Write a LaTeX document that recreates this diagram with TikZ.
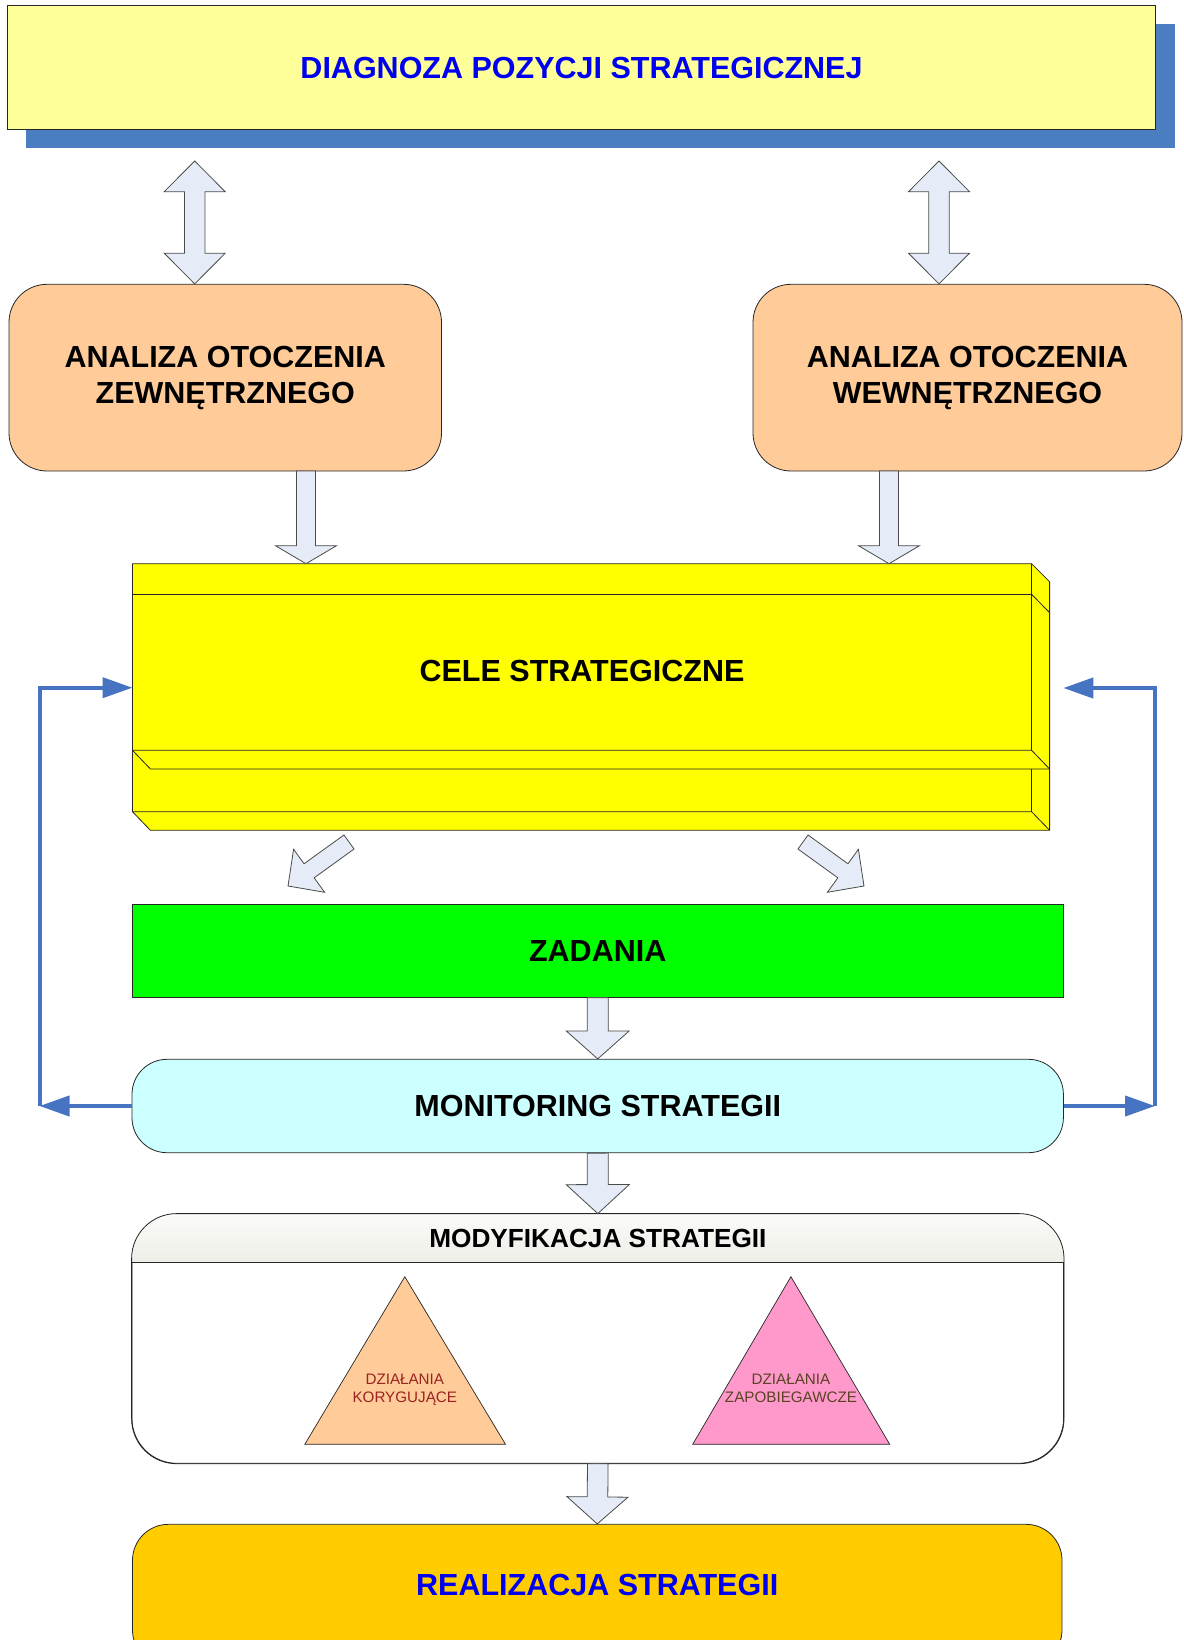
\documentclass[tikz,border=0pt]{standalone}
\usepackage{fontspec}
\setmainfont{Liberation Sans}
\usetikzlibrary{calc,arrows.meta}
\definecolor{paleyellow}{HTML}{FFFF99}
\definecolor{shadowblue}{HTML}{4A7EC0}
\definecolor{titleblue}{HTML}{0000F0}
\definecolor{arrowfill}{HTML}{E6ECF7}
\definecolor{arrowline}{HTML}{4A4A4A}
\definecolor{peach}{HTML}{FFCC99}
\definecolor{brightyellow}{HTML}{FFFF00}
\definecolor{brightgreen}{HTML}{00FF00}
\definecolor{palecyan}{HTML}{CCFFFF}
\definecolor{goldbox}{HTML}{FFCC00}
\definecolor{tripink}{HTML}{FF99CC}
\definecolor{linkblue}{HTML}{4674C2}
\definecolor{redtext}{HTML}{9A2222}
\definecolor{olivetext}{HTML}{5A4222}
\definecolor{hdrtop}{HTML}{FBFBF8}
\definecolor{hdrbot}{HTML}{EEEEE8}
\begin{document}
\begin{tikzpicture}[x=1pt,y=-1pt,
  bigtxt/.style={font=\fontsize{30.5}{36}\selectfont\bfseries},
  onel/.style={text height=21.8pt, text depth=0pt},
  boxline/.style={draw=black!85, line width=0.8pt},
  shapebox/.style={boxline, inner sep=0pt, align=center},
  smalltxt/.style={font=\fontsize{15.2}{17.7}\selectfont, align=center, inner sep=0pt},
  barrow/.style n args={3}{draw=arrowline, fill=arrowfill, line width=0.8pt, line join=miter,
    to path={let \p1=(\tikztostart), \p2=(\tikztotarget),
      \n1={atan2(\y2-\y1,\x2-\x1)}, \n2={veclen(\x2-\x1,\y2-\y1)} in
      ($(\p1)+(\n1+90:#1)$)
      -- ($(\p1)+(\n1:{\n2*1pt-#3})+(\n1+90:#1)$)
      -- ($(\p1)+(\n1:{\n2*1pt-#3})+(\n1+90:#2)$)
      -- (\p2)
      -- ($(\p1)+(\n1:{\n2*1pt-#3})+(\n1-90:#2)$)
      -- ($(\p1)+(\n1:{\n2*1pt-#3})+(\n1-90:#1)$)
      -- ($(\p1)+(\n1-90:#1)$) -- cycle}},
  dbarrow/.style n args={3}{draw=arrowline, fill=arrowfill, line width=0.8pt, line join=miter,
    to path={let \p1=(\tikztostart), \p2=(\tikztotarget),
      \n1={atan2(\y2-\y1,\x2-\x1)}, \n2={veclen(\x2-\x1,\y2-\y1)} in
      (\p1)
      -- ($(\p1)+(\n1:#3)+(\n1+90:#2)$)
      -- ($(\p1)+(\n1:#3)+(\n1+90:#1)$)
      -- ($(\p1)+(\n1:{\n2*1pt-#3})+(\n1+90:#1)$)
      -- ($(\p1)+(\n1:{\n2*1pt-#3})+(\n1+90:#2)$)
      -- (\p2)
      -- ($(\p1)+(\n1:{\n2*1pt-#3})+(\n1-90:#2)$)
      -- ($(\p1)+(\n1:{\n2*1pt-#3})+(\n1-90:#1)$)
      -- ($(\p1)+(\n1:#3)+(\n1-90:#1)$)
      -- ($(\p1)+(\n1:#3)+(\n1-90:#2)$) -- cycle}},
  link/.style={draw=linkblue, line width=4pt, line join=miter, -{Triangle[length=30pt,width=20pt]}},
]
\useasboundingbox (0,0) rectangle (1183,1640);
\clip (0,0) rectangle (1183,1640);

% top box with shadow
\fill[shadowblue] (26,24) rectangle (1175,148);
\node[shapebox, fill=paleyellow, minimum width=1148pt, minimum height=124pt, bigtxt, onel, text=titleblue] (diag) at (581.5,67.3) {DIAGNOZA POZYCJI STRATEGICZNEJ};

% analysis boxes
\node[shapebox, fill=peach, rounded corners=38pt, minimum width=432.5pt, minimum height=186.7pt, bigtxt] (ozew) at (225.25,377.65) {ANALIZA OTOCZENIA\\ZEWNĘTRZNEGO};
\node[shapebox, fill=peach, rounded corners=38pt, minimum width=429pt, minimum height=186.7pt, bigtxt] (owew) at (967.5,377.65) {ANALIZA OTOCZENIA\\WEWNĘTRZNEGO};

% double arrows
\coordinate (d1) at (194.7,161);
\coordinate (d2) at (939,161);
\path[dbarrow={10.25pt}{30.5pt}{30.7pt}] (d1) to (d1 |- ozew.north);
\path[dbarrow={10.25pt}{30.5pt}{30.7pt}] (d2) to (d2 |- owew.north);

% CELE STRATEGICZNE (3D stack)
\fill[brightyellow] (132.5,563.7) -- (1031.6,563.7) -- (1049.6,581.7) -- (1049.6,830.3) -- (150.4,830.3) -- (132.5,811.7) -- cycle;
\draw[boxline, line join=miter] (132.5,563.7) -- (1031.6,563.7) -- (1049.6,581.7) -- (1049.6,830.3) -- (150.4,830.3) -- (132.5,811.7) -- cycle;
\draw[boxline] (132.5,594.3) -- (1031.6,594.3);
\draw[boxline] (1031.6,563.7) -- (1031.6,750.3);
\draw[boxline] (1031.6,594.3) -- (1049.6,612.7);
\draw[boxline] (132.5,750.3) -- (1031.6,750.3) -- (1049.6,769);
\draw[boxline] (132.5,750.3) -- (150.4,769) -- (1049.6,769);
\draw[boxline] (1031.6,769) -- (1031.6,811.7);
\draw[boxline] (132.5,811.7) -- (1031.6,811.7) -- (1049.6,830.3);
\node[bigtxt, onel, inner sep=0pt] (cele) at (582,671) {CELE STRATEGICZNE};
\coordinate (ct) at (132.5,563.7);

% arrows into CELE
\coordinate (a1) at (306,471);
\coordinate (a2) at (889,471);
\path[barrow={9.5pt}{30.5pt}{18pt}] (a1) to (a1 |- ct);
\path[barrow={9.5pt}{30.5pt}{18pt}] (a2) to (a2 |- ct);

% diagonal arrows
\coordinate (g1) at (349,842);
\coordinate (g2) at (288,886);
\coordinate (g3) at (803,842);
\coordinate (g4) at (864,886);
\path[barrow={8.65pt}{26.5pt}{26pt}] (g1) to (g2);
\path[barrow={8.65pt}{26.5pt}{26pt}] (g3) to (g4);

% ZADANIA
\node[shapebox, fill=brightgreen, minimum width=931.4pt, minimum height=93pt, bigtxt, onel] (zad) at (597.7,950.8) {ZADANIA};

% MONITORING
\node[shapebox, fill=palecyan, rounded corners=35pt, minimum width=931.4pt, minimum height=93.4pt, bigtxt, onel] (mon) at (597.7,1106) {MONITORING STRATEGII};
\path[barrow={10.5pt}{31.5pt}{28pt}] (zad.south) to (mon.north);

% MODYFIKACJA
\node[shapebox, fill=white, rounded corners=45pt, minimum width=931.6pt, minimum height=249.3pt] (mod) at (597.8,1338.65) {};
\coordinate (hdr) at (0,1262.7);
\begin{scope}
\clip[rounded corners=45pt] (mod.north west) rectangle (mod.south east);
\shade[top color=hdrtop, bottom color=hdrbot] (mod.north west) rectangle (mod.east |- hdr);
\end{scope}
\draw[boxline, rounded corners=45pt] (mod.north west) rectangle (mod.south east);
\draw[boxline] (mod.west |- hdr) -- (mod.east |- hdr);
\node[font=\fontsize{26.2}{30}\selectfont\bfseries, text height=18.8pt, text depth=0pt, inner sep=0pt] (modt) at (597.9,1238.5) {MODYFIKACJA STRATEGII};
\path[barrow={10.5pt}{31.5pt}{29pt}] (mon.south) to (mod.north);

\draw[boxline, line width=0.7pt, fill=peach, line join=miter] (404.8,1276.7) -- (505.5,1444.3) -- (304.8,1444.3) -- cycle;
\draw[boxline, line width=0.7pt, fill=tripink, line join=miter] (790.9,1276.7) -- (889.7,1444.3) -- (692.7,1444.3) -- cycle;
\node[smalltxt, text=redtext] (kor) at (404.8,1390) {DZIAŁANIA\\KORYGUJĄCE};
\node[smalltxt, text=olivetext] (zap) at (791,1388.5) {DZIAŁANIA\\ZAPOBIEGAWCZE};

% REALIZACJA
\node[shapebox, fill=goldbox, rounded corners=36pt, minimum width=929.5pt, minimum height=141.7pt] (real) at (597.25,1595.15) {};
\node[bigtxt, onel, text=titleblue, inner sep=0pt] (realt) at (597.2,1585) {REALIZACJA STRATEGII};
\path[barrow={10.3pt}{30.5pt}{27pt}] (mod.south) to (real.north);

% feedback connectors
\coordinate (lb) at (39.5,1106);
\coordinate (lt) at (39.5,687.7);
\coordinate (ceL) at (132.5,687.7);
\coordinate (rb) at (1155,1106);
\coordinate (rt) at (1155,688);
\coordinate (ceR) at (1063.3,688);
\draw[link] (mon.west) -- (lb);
\draw[link] (lb) -- (lt) -- (ceL);
\draw[link] (mon.east) -- (rb);
\draw[link] (rb) -- (rt) -- (ceR);
\end{tikzpicture}
\end{document}
